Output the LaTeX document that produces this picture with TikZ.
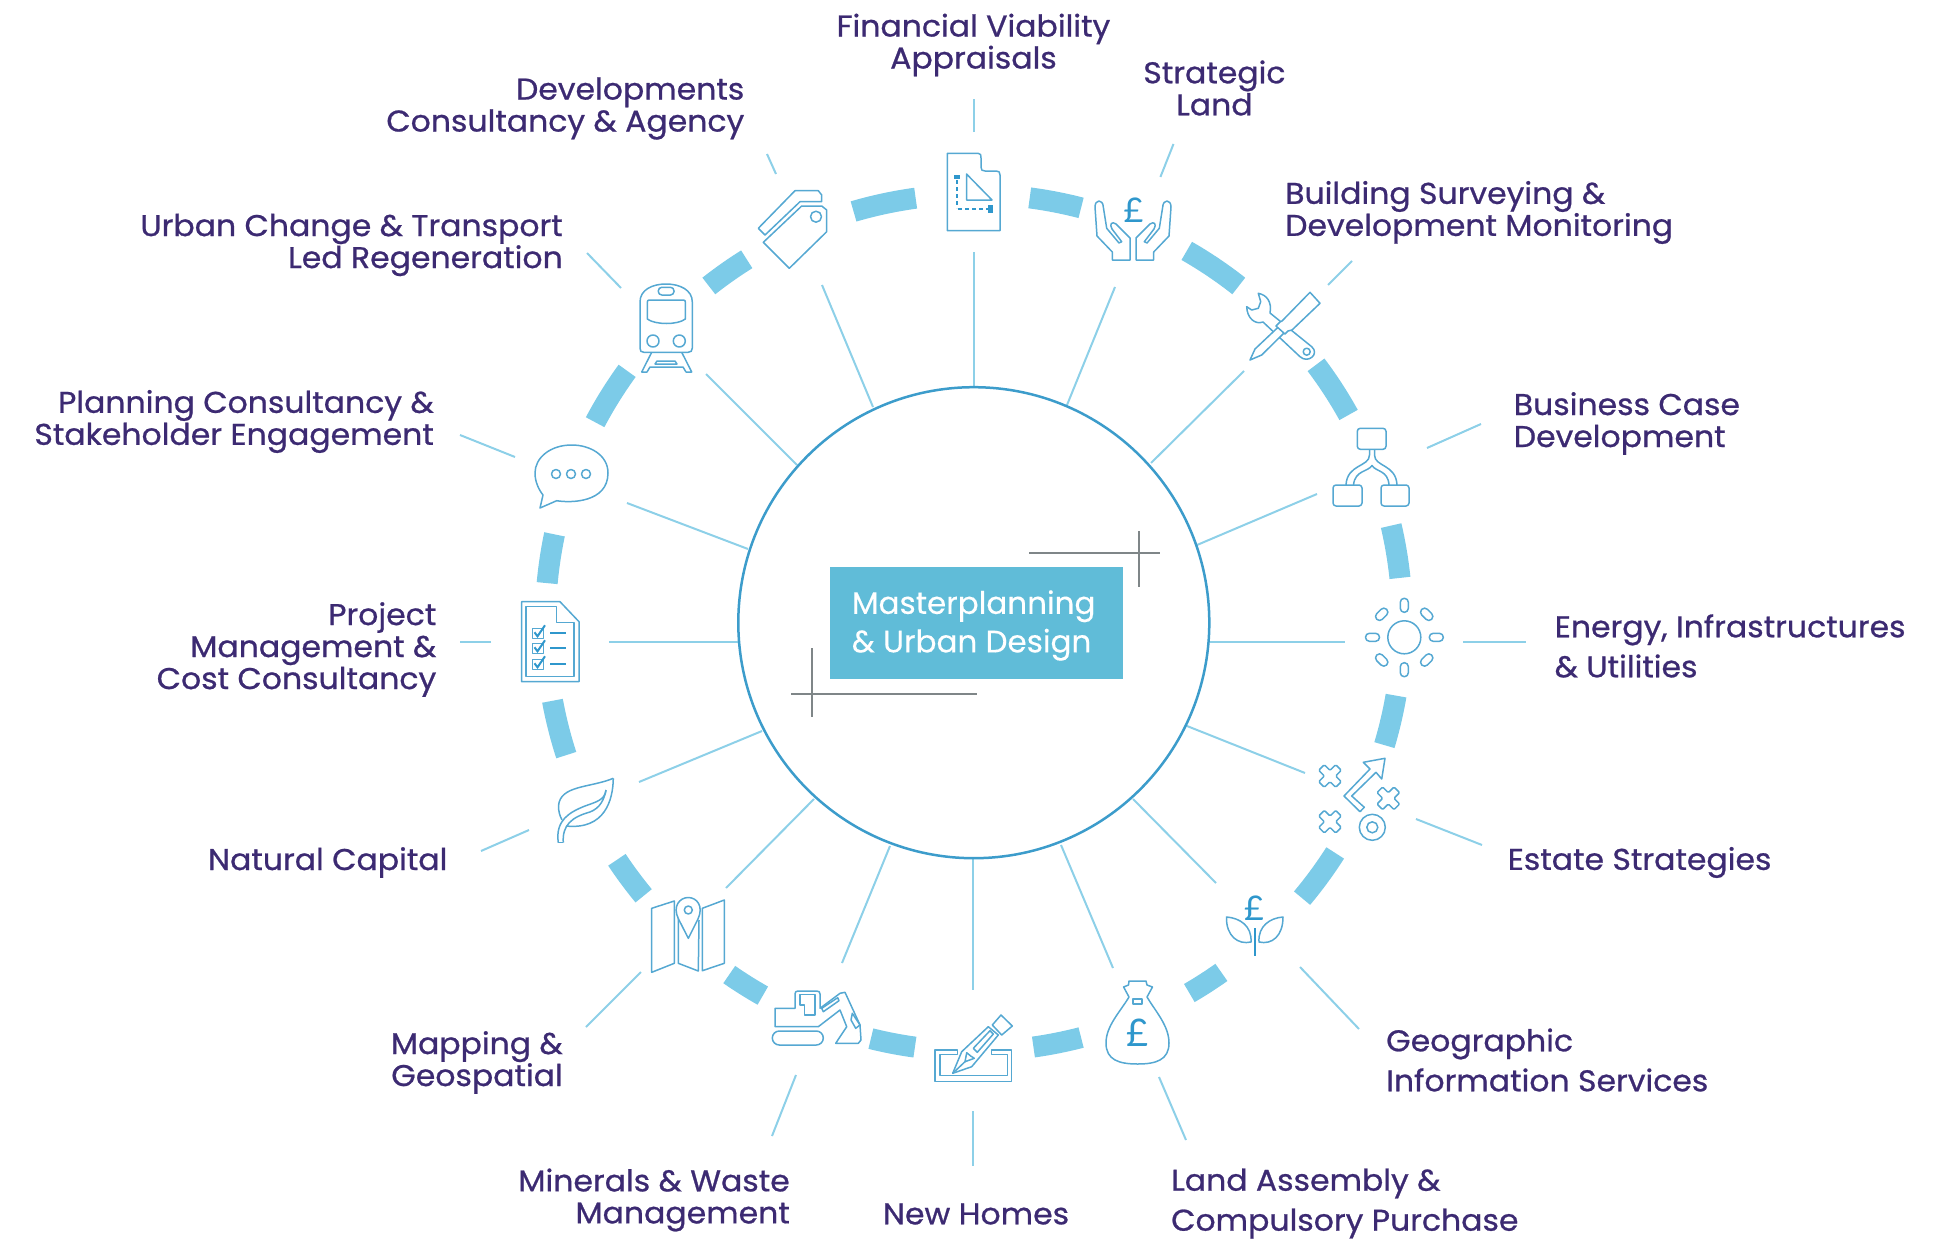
\documentclass[tikz,border=0pt]{standalone}
\usepackage{fontspec}
\setmainfont[FakeBold=0.8,FakeStretch=1.05]{Poppins}
\newfontfamily\plainfont[FakeBold=0.3]{Poppins}
\newfontfamily\poundfont{Lato}
\definecolor{labcol}{HTML}{3C2A72}
\definecolor{ringcol}{HTML}{7CCBE8}
\definecolor{spokecol}{HTML}{8DD0E8}
\definecolor{circol}{HTML}{3C9CCB}
\definecolor{iconcol}{HTML}{55A8D2}
\definecolor{icondark}{HTML}{2F97CC}
\definecolor{boxcol}{HTML}{60BCD8}
\definecolor{crosscol}{HTML}{7F8688}
\tikzset{
  lab/.style={inner sep=0pt,text=labcol,font=\fontsize{30}{32}\selectfont},
  labw/.style={lab,font=\fontsize{30}{40}\selectfont},
  spokeline/.style={draw=spokecol,line width=2pt},
  icon/.style={draw=iconcol,line width=1.5pt,line join=round},
  pound/.style={inner sep=0pt,text=icondark,font=\poundfont\fontsize{#1}{#1}\selectfont},
  crossline/.style={draw=crosscol,line width=1.2pt},
}
\newcommand{\mySpoke}[5]{\coordinate (#1a) at (#2,#3);\coordinate (#1b) at (#4,#5);\draw[spokeline] (#1a) -- (#1b);}
\newcommand{\myRay}[3]{\draw[icon,shift={(#1,#2)},rotate=#3,rounded corners=3.9pt] (-7,-4) rectangle (7,4);}
\newcommand{\myCross}[2]{\draw[icon,shift={(#1,#2)},rotate=45,rounded corners=1.2pt] (-4,-12)--(4,-12)--(4,-4)--(12,-4)--(12,4)--(4,4)--(4,12)--(-4,12)--(-4,4)--(-12,4)--(-12,-4)--(-4,-4)--cycle;}
\newcommand{\myHand}{%
  \draw[icon] (1112.3,260) -- (1130,260) -- (1130,238) -- (1116,224) .. controls (1112,221) and (1109,224) .. (1112,229) -- (1121.7,241.7) -- (1119,243) -- (1106.7,228.3) -- (1103.3,207) .. controls (1103,199) and (1095,199) .. (1095,207) -- (1097,236) -- (1112.3,252) -- cycle;
}
\begin{document}
\begin{tikzpicture}[x=1pt,y=-1pt]
\useasboundingbox (0,0) rectangle (1939,1239);

% ring segments
\begin{scope}[shift={(973.8,622.7)},x=1pt,y=1pt]
\foreach \a/\b in {97.8/106.3,75.5/82.5,51.8/60.2,29/37,6/13.1,-16.6/-9.8,-40/-32.5,-59.8/-54.7,-82/-75.5,-103.9/-97.9,-124.8/-119.5,-146.4/-140.4,-169.5/-162,168.1/174.7,144/152.1,122/128.2}
  \draw[draw=ringcol,line width=21pt] (\a:428.5) arc[start angle=\a,end angle=\b,radius=428.5];
\end{scope}

% spokes
\mySpoke{docA}{973.9}{387}{973.9}{252}
\mySpoke{docB}{973.9}{132}{973.9}{99}
\mySpoke{hanA}{1067}{405}{1115}{287}
\mySpoke{hanB}{1160.4}{177}{1173.5}{144}
\mySpoke{tooA}{1151}{463}{1244}{371}
\mySpoke{tooB}{1328}{285}{1352}{261}
\mySpoke{floA}{1197}{545}{1317}{494}
\mySpoke{floB}{1427}{448}{1481}{424}
\mySpoke{sunA}{1210}{642}{1345}{642}
\mySpoke{sunB}{1463}{642}{1526}{642}
\mySpoke{estA}{1187}{726}{1305}{773}
\mySpoke{estB}{1416}{819}{1482}{845}
\mySpoke{plaA}{1133}{799}{1216}{883}
\mySpoke{plaB}{1300}{967}{1359}{1029}
\mySpoke{bagA}{1061}{845}{1113}{968}
\mySpoke{bagB}{1159}{1077}{1186}{1140}
\mySpoke{penA}{973.4}{858}{973.4}{990}
\mySpoke{penB}{973.4}{1111}{973.4}{1166}
\mySpoke{digA}{890}{846}{842}{963}
\mySpoke{digB}{796}{1075}{772}{1136}
\mySpoke{mapA}{814}{799}{726}{888}
\mySpoke{mapB}{641}{972}{586}{1027}
\mySpoke{leaA}{762}{731}{639}{782}
\mySpoke{leaB}{529}{830}{481}{851}
\mySpoke{cheA}{738}{642}{609}{642}
\mySpoke{cheB}{491}{642}{460}{642}
\mySpoke{speA}{748}{549}{627}{503}
\mySpoke{speB}{515}{457}{460}{435}
\mySpoke{traA}{797}{465}{706}{374}
\mySpoke{traB}{621}{288}{587}{253}
\mySpoke{tagA}{873}{407}{822}{285}
\mySpoke{tagB}{776}{174}{767}{154}

% centre
\node[circle,draw=circol,line width=2.5pt,fill=white,minimum size=471pt,inner sep=0pt] (hub) at (973.8,622.7) {};
\node[fill=boxcol,minimum width=293pt,minimum height=112pt,inner sep=0pt] (titlebox) at (976.5,623) {};
\node[inner sep=0pt,text=white,align=left,anchor=west,font=\plainfont\fontsize{31}{38.5}\selectfont] (title) at (851.7,625.5) {Masterplanning\\\& Urban Design};
\draw[crossline] (1029,553) -- (1160,553);
\draw[crossline] (1139,531) -- (1139,587);
\draw[crossline] (791,694) -- (977,694);
\draw[crossline] (812,648) -- (812,717);

% document with set square
\draw[icon] (947.3,153.3) -- (978,153.3) .. controls (981,153.3) and (981,155) .. (981,158) -- (981,167) .. controls (981,170) and (982,171) .. (985,171) -- (996,171) .. controls (999,171) and (1000,172) .. (1000,175) -- (1000,230.7) -- (947.3,230.7) -- cycle;
\draw[icon] (966.5,174) -- (966.5,200) -- (992,200) -- cycle;
\draw[icon,draw=icondark,dash pattern=on 4pt off 3pt] (957,180) -- (957,208);
\draw[icon,draw=icondark,dash pattern=on 4pt off 3pt] (958,209) -- (988,209);
\fill[icondark] (954,175) rectangle (960,179);
\fill[icondark] (988,205) rectangle (992.6,213);

% hands with pound
\myHand
\begin{scope}[shift={(2266,0)},xscale=-1]
\myHand
\end{scope}
\node[pound=34] (p1) at (1133.5,210) {£};

% tools
\draw[icon] (1258.3,293.3) .. controls (1267,295) and (1272,302) .. (1270,313) -- (1311.7,346.7) .. controls (1320,354) and (1308,364) .. (1300,356.7) -- (1263,322) .. controls (1255,325) and (1247,318) .. (1246.7,306.7) -- (1251.7,310) -- (1258.3,308.3) -- (1260.7,301.7) -- cycle;
\draw[icon] (1306.7,351.7) circle[radius=3.5];
\draw[icon,fill=white] (1278.3,327) -- (1255,349) -- (1250,360) -- (1261.7,355) -- (1284,333);
\draw[icon,fill=white] (1310,292.3) -- (1320,303.3) -- (1292,330) -- (1288,331) -- (1285,334) -- (1276,326) -- (1280,322) -- (1282,321) -- cycle;

% flow chart
\draw[icon,rounded corners=3pt] (1357.3,428.3) rectangle (1386,449.3);
\draw[icon,rounded corners=3pt] (1333,485) rectangle (1362,506);
\draw[icon,rounded corners=3pt] (1381,485) rectangle (1409,506);
\draw[icon] (1369.5,449.3) -- (1369.5,455) .. controls (1369.5,467) and (1347,464) .. (1346,485);
\draw[icon] (1374.5,449.3) -- (1374.5,455) .. controls (1374.5,467) and (1396,464) .. (1397,485);
\draw[icon] (1353.5,485) .. controls (1355,470) and (1368,472) .. (1372,465.5) .. controls (1376,472) and (1388,470) .. (1389,485);

% sun
\draw[icon] (1404.3,637.3) circle[radius=16.5];
\myRay{1404.3}{605.3}{90}
\myRay{1404.3}{669.7}{90}
\myRay{1372.5}{637.3}{0}
\myRay{1436.3}{637.3}{0}
\myRay{1381.7}{614.3}{45}
\myRay{1426.7}{660}{45}
\myRay{1426.7}{614.3}{-45}
\myRay{1381.7}{660}{-45}

% estate strategies
\myCross{1330}{776}
\myCross{1330}{821.7}
\myCross{1388.3}{798.3}
\draw[icon] (1385,758.3) -- (1363.3,762.3) -- (1370,769) -- (1344,796) -- (1360,811.7) -- (1364.3,807.3) -- (1351.7,796) -- (1376,772.3) -- (1381.7,779) -- cycle;
\draw[icon] (1372.3,827.3) circle[radius=13];
\draw[icon] (1372.3,827.3) circle[radius=5.5];

% plant with pound
\node[pound=34] (p2) at (1254,908) {£};
\draw[icon] (1226.5,917) .. controls (1240,918) and (1252,926) .. (1251,942) .. controls (1238,945) and (1226,936) .. (1226.5,917) -- cycle;
\draw[icon] (1283,917) .. controls (1270,918) and (1258,926) .. (1259,942) .. controls (1272,945) and (1283,936) .. (1283,917) -- cycle;
\draw[icon,draw=icondark] (1255,928) -- (1255,956);

% money bag
\draw[icon] (1129,981) -- (1146,981) -- (1147,985) -- (1152.5,987) -- (1147,997) .. controls (1156,1012) and (1169,1026) .. (1169,1043) .. controls (1169,1060) and (1156,1064) .. (1137.7,1064) .. controls (1119,1064) and (1106,1060) .. (1106,1043) .. controls (1106,1026) and (1120,1012) .. (1129,997) -- (1123.6,987) -- (1128.5,985) -- cycle;
\draw[icon] (1133,999) rectangle (1142,1004);
\node[pound=38] (p3) at (1137.7,1033) {£};

% tray with pencil
\draw[icon] (935,1050) -- (957.3,1050) -- (957.3,1054.3) -- (940,1054.3) -- (940,1075.7) -- (1007.3,1075.7) -- (1007.3,1054.3) -- (991.7,1054.3) -- (991.7,1050) -- (1011.7,1050) -- (1011.7,1081.7) -- (935,1081.7) -- cycle;
\draw[icon] (1001,1015) -- (1012.3,1026) -- (1001.7,1035) -- (992.3,1025) -- cycle;
\draw[icon,fill=white] (988.3,1026.7) -- (998.3,1035) -- (971.7,1066.7) -- (952.7,1073.3) -- (961.7,1051.7) -- cycle;
\draw[icon] (973.3,1048.3) -- (990,1030.7) -- (993.3,1034) -- (977.3,1052.3) -- cycle;
\draw[icon] (966.7,1052.7) -- (970.7,1056) -- (974.3,1058.3) -- (965,1061.7) -- cycle;
\draw[icon] (952.7,1073.3) -- (965,1061.7);

% digger
\draw[icon,rounded corners=7pt] (772.3,1031) rectangle (823.3,1045);
\draw[icon] (775,1026.7) -- (775,1008.3) -- (795,1008.3) -- (795,994) .. controls (795,992) and (796,991) .. (798,991) -- (816.7,991) .. controls (819,991) and (820,992) .. (820,994) -- (820,1008.3) -- (840,993.3) -- (845,992.3) -- (860,1025) -- (861,1040) -- (858.3,1043.3) -- (835.7,1043.3) -- (846.7,1026.7) -- (840,1010) -- (818.3,1026.7) -- cycle;
\draw[icon] (800,994.3) -- (815,994.3) -- (815,1015) -- (804.3,1015) -- (804.3,1005) -- (800,1005) -- cycle;
\draw[icon] (821.7,1008.3) -- (837.7,997.7) -- (839,1000.7) -- (823.3,1011.7) -- cycle;
\draw[icon] (852.3,1013.3) -- (860,1025) -- (855.7,1028.3) -- (851,1020) -- cycle;

% map
\draw[icon] (651.7,908.3) -- (674.3,901) -- (674.3,963.3) -- (651.7,972.3) -- cycle;
\draw[icon] (678.3,917) -- (678.3,963.3) -- (698.3,971) -- (699,920);
\draw[icon] (702.3,908.3) -- (724.3,900) -- (724.3,963.3) -- (702.3,970.7) -- cycle;
\draw[icon,fill=white] (688.3,938.3) -- (678.5,919) .. controls (672,906) and (680,897.5) .. (688.3,897.5) .. controls (696.6,897.5) and (704,906) .. (698,919) -- cycle;
\draw[icon] (688.3,910) circle[radius=4];

% leaf
\draw[icon] (613.3,778.3) .. controls (590,788) and (560,785) .. (558.5,806) .. controls (558.5,812) and (560,816) .. (562,820);
\draw[icon] (613.3,778.3) .. controls (613,800) and (605,830) .. (566,826);
\draw[icon] (558.3,842.7) .. controls (555,820) and (570,812) .. (585,806) .. controls (596,802) and (605,800) .. (606,790);
\draw[icon] (563.3,842.7) .. controls (562,825) and (572,817) .. (590,812) .. controls (600,808) and (604,800) .. (606,790);
\draw[icon] (558.3,842.7) -- (563.3,842.7);

% checklist
\draw[icon] (521.7,601.7) -- (560,601.7) -- (579,621.7) -- (579,681.7) -- (521.7,681.7) -- cycle;
\draw[icon] (526,606.7) -- (556.7,606.7) -- (556.7,622.7) -- (574,622.7) -- (574,676.7) -- (526,676.7) -- cycle;
\foreach \yy in {628.3,643.3,659.3}{
  \draw[icon,line width=1pt] (532.3,\yy) rectangle (543.3,\yy+10);
  \draw[draw=icondark,line width=2pt] (534.5,\yy+4) -- (537.5,\yy+8) -- (545,\yy-3);
  \draw[draw=icondark,line width=1.8pt] (550,\yy+4.5) -- (565.7,\yy+4.5);
}

% speech bubble
\draw[icon] (556.7,500.7) .. controls (570,503) and (608,503) .. (608,473) .. controls (608,455) and (590,445) .. (571.7,445) .. controls (550,445) and (535,458) .. (535,473) .. controls (535,482) and (539,490) .. (543,495) -- (540,508) -- cycle;
\draw[icon] (556,474) circle[radius=4.5];
\draw[icon] (571,474) circle[radius=4.5];
\draw[icon] (586,474) circle[radius=4.5];

% train
\draw[icon] (640,348) -- (640,302) .. controls (640,290) and (652,284) .. (666,284) .. controls (680,284) and (692.3,290) .. (692.3,302) -- (692.3,348) .. controls (692.3,351) and (691,352.3) .. (688,352.3) -- (644,352.3) .. controls (641,352.3) and (640,351) .. (640,348) -- cycle;
\draw[icon,rounded corners=3.5pt] (658.3,287.3) rectangle (674,295);
\draw[icon] (649,300) -- (683.5,300) .. controls (685,300) and (685.3,301) .. (685.3,302) -- (685.3,319) .. controls (678,325) and (655,325) .. (647.3,319) -- (647.3,302) .. controls (647.3,301) and (648,300) .. (649,300) -- cycle;
\draw[icon] (653,341) circle[radius=6];
\draw[icon] (679.3,341) circle[radius=6];
\draw[icon] (651.7,352.3) -- (641.7,372) -- (647,372) -- (650,367) -- (683,367) -- (686,372) -- (691.7,372) -- (681.7,352.3);
\draw[icon] (657,361) -- (675,361) -- (677,364) -- (655,364) -- cycle;

% tags
\draw[icon] (763.3,242.3) -- (789.3,268.3) -- (826.7,231.7) -- (826.7,210) -- (821.7,206) -- (801.7,206) -- cycle;
\draw[icon] (816,216.7) circle[radius=5.5];
\draw[icon] (758.3,228.3) -- (765,235) -- (800,201.7) -- (821.7,201.7) -- (821.7,195) -- (818.3,190.7) -- (795,190.7) -- cycle;

% labels
\node[lab,align=center] (lFin) at (973.5,45) {Financial Viability\\Appraisals};
\node[lab,align=center] (lStr) at (1214.4,88) {Strategic\\Land};
\node[lab,align=right,anchor=east] (lDev) at (744.5,108.5) {Developments\\Consultancy \& Agency};
\node[lab,align=left,anchor=west] (lBui) at (1285,212.5) {Building Surveying \&\\Development Monitoring};
\node[lab,align=right,anchor=east] (lUrb) at (563,245) {Urban Change \& Transport\\Led Regeneration};
\node[lab,align=left,anchor=west] (lBus) at (1513.6,423.5) {Business Case\\Development};
\node[lab,align=right,anchor=east] (lPla) at (434,421.5) {Planning Consultancy \&\\Stakeholder Engagement};
\node[labw,align=left,anchor=west] (lEne) at (1554.5,646) {Energy, Infrastructures\\\& Utilities};
\node[lab,align=right,anchor=east] (lPro) at (436.5,649.5) {Project\\Management \&\\Cost Consultancy};
\node[lab,anchor=west] (lEst) at (1507.5,862.5) {Estate Strategies};
\node[lab,anchor=east] (lNat) at (447.6,862.5) {Natural Capital};
\node[labw,align=left,anchor=west] (lGeo) at (1386,1060) {Geographic\\Information Services};
\node[lab,align=right,anchor=east] (lMap) at (563,1062.5) {Mapping \&\\Geospatial};
\node[lab,align=right,anchor=east] (lMin) at (790,1200) {Minerals \& Waste\\Management};
\node[lab] (lNew) at (976,1214) {New Homes};
\node[labw,align=left,anchor=west] (lLan) at (1171,1203.5) {Land Assembly \&\\Compulsory Purchase};
\end{tikzpicture}
\end{document}
